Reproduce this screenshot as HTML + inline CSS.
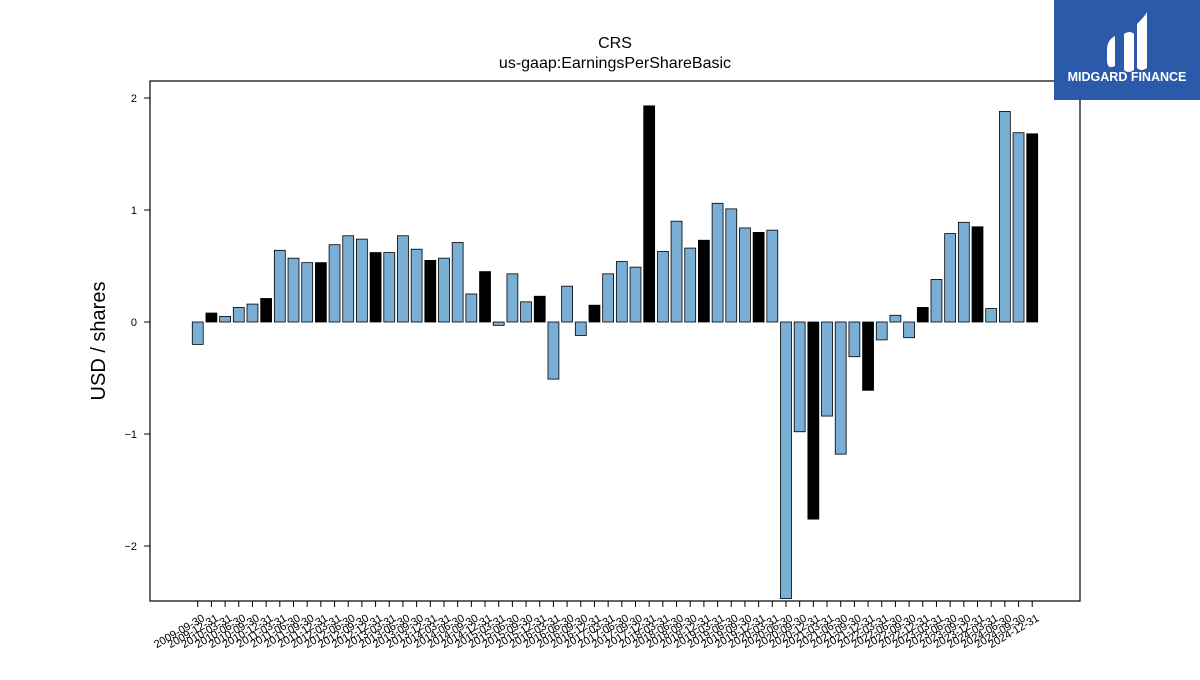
<!DOCTYPE html>
<html><head><meta charset="utf-8"><style>
body{margin:0;background:#fff;width:1200px;height:675px;overflow:hidden;font-family:"Liberation Sans",sans-serif}
</style></head><body>
<svg width="1200" height="675" xmlns="http://www.w3.org/2000/svg">
<text x="615" y="48" text-anchor="middle" font-size="16">CRS</text>
<text x="615" y="68" text-anchor="middle" font-size="16">us-gaap:EarningsPerShareBasic</text>
<text transform="translate(105,341) rotate(-90)" text-anchor="middle" font-size="20">USD / shares</text>
<g id="bars"></g><g id="yticks"></g><g id="xticks"></g>
<rect x="150" y="81" width="930" height="520" fill="none" stroke="#000" stroke-width="1.2"/>
<g>
<rect x="1054" y="0" width="146" height="100" fill="#2b5aab"/>
<path d="M1107 50 q0-10 8-14 v30 q-8 4-8-6z M1124 34 q6-4 10 0 v36 q-6 4-10 0z M1137 24 q8-8 10-12 v56 q-6 4-10 0z" fill="#fff"/>
<text x="1127" y="81" text-anchor="middle" font-size="12.5" font-weight="bold" fill="#fff">MIDGARD FINANCE</text>
</g>
</svg>
<script>
const dates=[];
(function(){let y=2009,q=3;for(let i=0;i<62;i++){const md=['03-31','06-30','09-30','12-31'][q-1];dates.push(y+'-'+md);q++;if(q>4){q=1;y++;}}})();
const values=[-0.2,0.08,0.05,0.13,0.16,0.21,0.64,0.57,0.53,0.53,0.69,0.77,0.74,0.62,0.62,0.77,0.65,0.55,0.57,0.71,0.25,0.45,-0.03,0.43,0.18,0.23,-0.51,0.32,-0.12,0.15,0.43,0.54,0.49,1.93,0.63,0.90,0.66,0.73,1.06,1.01,0.84,0.80,0.82,-2.47,-0.98,-1.76,-0.84,-1.18,-0.31,-0.61,-0.16,0.06,-0.14,0.13,0.38,0.79,0.89,0.85,0.12,1.88,1.69,1.68];
const yTicks=[-2,-1,0,1,2];
const yTickLabels=['\u22122','\u22121','0','1','2'];
const NS='http://www.w3.org/2000/svg';
const X=i=>150+(i+3.49)*13.68;
const Y=v=>322-v*112;
const bars=document.getElementById('bars'),yt=document.getElementById('yticks'),xt=document.getElementById('xticks');
values.forEach((v,i)=>{
 const r=document.createElementNS(NS,'rect');
 r.setAttribute('x',X(i)-5.47);r.setAttribute('width',10.94);
 r.setAttribute('y',Math.min(Y(v),Y(0)));r.setAttribute('height',Math.abs(Y(v)-Y(0)));
 r.setAttribute('fill',dates[i].endsWith('12-31')?'#000':'#7aaed4');
 r.setAttribute('stroke','#000');r.setAttribute('stroke-width','0.8');
 
 
 bars.appendChild(r);
 const t=document.createElementNS(NS,'line');
 t.setAttribute('x1',X(i));t.setAttribute('x2',X(i));t.setAttribute('y1',601);t.setAttribute('y2',607);t.setAttribute('stroke','#000');
 
 
 xt.appendChild(t);
 const l=document.createElementNS(NS,'text');
 l.setAttribute('transform','translate('+(X(i)+4)+',614) rotate(-30)');
 l.setAttribute('text-anchor','end');l.setAttribute('font-size','11');l.setAttribute('dominant-baseline','hanging');
 l.textContent=dates[i];
 
 
 xt.appendChild(l);
});
yTicks.forEach((v,k)=>{
 const t=document.createElementNS(NS,'line');
 t.setAttribute('x1',144);t.setAttribute('x2',150);t.setAttribute('y1',Y(v));t.setAttribute('y2',Y(v));t.setAttribute('stroke','#000');
 
 
 yt.appendChild(t);
 const l=document.createElementNS(NS,'text');
 l.setAttribute('x',137);l.setAttribute('y',Y(v)+4);l.setAttribute('text-anchor','end');l.setAttribute('font-size','11');
 l.textContent=yTickLabels[k];
 
 
 yt.appendChild(l);
});
</script>
</body></html>
